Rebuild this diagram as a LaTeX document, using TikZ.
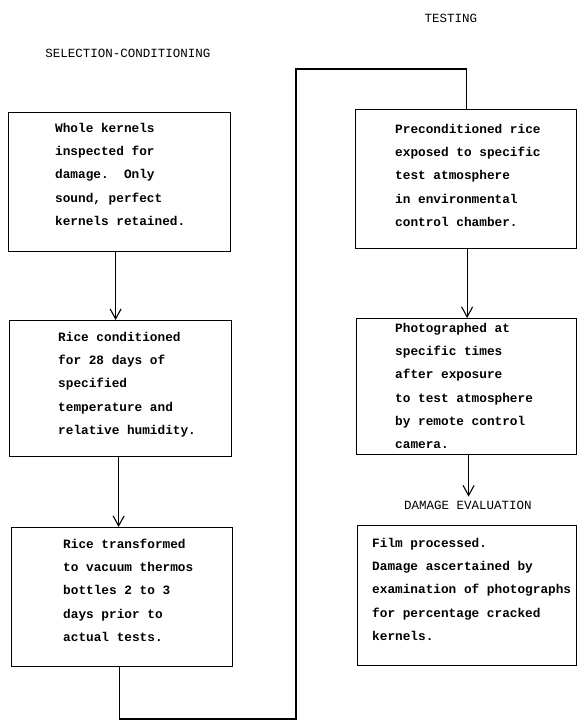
\documentclass[tikz,border=0pt]{standalone}
\usepackage{fontspec}
\setmonofont{Liberation Mono}
\usetikzlibrary{arrows.meta}
\begin{document}
\begin{tikzpicture}[x=1pt,y=-1pt,
  boxnode/.style={draw,line width=1.2pt,inner sep=0pt,anchor=north west},
  txt/.style={anchor=north west,inner sep=0pt,align=left,
    font=\ttfamily\bfseries\fontsize{12.75}{23.3}\selectfont},
  head/.style={inner sep=0pt,font=\ttfamily\fontsize{12.5}{15}\selectfont},
  line/.style={line width=1.1pt},
  arr/.style={line width=1.1pt,-{Straight Barb[length=10pt,width=11pt,line width=1.1pt]}}]
\useasboundingbox (0,0) rectangle (578,721);
\fill[white] (0,0) rectangle (578,721);
% headings
\node[head] (h1) at (128,53) {SELECTION-CONDITIONING};
\node[head] (h2) at (451,18) {TESTING};
% left boxes
\node[boxnode,minimum width=222pt,minimum height=139pt] (b1) at (8,112) {};
\node[boxnode,minimum width=222pt,minimum height=136pt] (b2) at (9,320) {};
\node[boxnode,minimum width=221pt,minimum height=139pt] (b3) at (11,527) {};
% right boxes
\node[boxnode,minimum width=221pt,minimum height=139pt] (b4) at (355,109) {};
\node[boxnode,minimum width=220pt,minimum height=136pt] (b5) at (356,318) {};
\node[boxnode,minimum width=219pt,minimum height=140pt] (b6) at (357,525) {};
% texts
\node[txt] (t1) at (55,121) {\rule{0pt}{11pt}Whole kernels\\inspected for\\damage.\ \ Only\\sound, perfect\\kernels retained.};
\node[txt] (t2) at (58,330) {\rule{0pt}{11pt}Rice conditioned\\for 28 days of\\specified\\temperature and\\relative humidity.};
\node[txt] (t3) at (63,537) {\rule{0pt}{11pt}Rice transformed\\to vacuum thermos\\bottles 2 to 3\\days prior to\\actual tests.};
\node[txt] (t4) at (395,122) {\rule{0pt}{11pt}Preconditioned rice\\exposed to specific\\test atmosphere\\in environmental\\control chamber.};
\node[txt] (t5) at (395,321) {\rule{0pt}{11pt}Photographed at\\specific times\\after exposure\\to test atmosphere\\by remote control\\camera.};
\node[txt] (t6) at (372,536) {\rule{0pt}{11pt}Film processed.\\Damage ascertained by\\examination of photographs\\for percentage cracked\\kernels.};
\node[head,inner ysep=4pt] (de) at (468,505) {DAMAGE EVALUATION};
% connectors
\draw[arr] ([xshift=-4pt]b1.south) -- ([xshift=-4pt]b1.south |- b2.north);
\draw[arr] ([xshift=-2pt]b2.south) -- ([xshift=-2pt]b2.south |- b3.north);
\coordinate (c1) at (296,719);
\coordinate (c2) at (296,69);
\draw[line] ([xshift=-3pt]b3.south) |- (c1) -- (c2) -| (b4.north);
\draw[arr] ([xshift=1pt]b4.south) -- ([xshift=1pt]b4.south |- b5.north);
\draw[arr] ([xshift=2pt]b5.south) -- ([xshift=2pt]b5.south |- de.north);
\end{tikzpicture}
\end{document}
